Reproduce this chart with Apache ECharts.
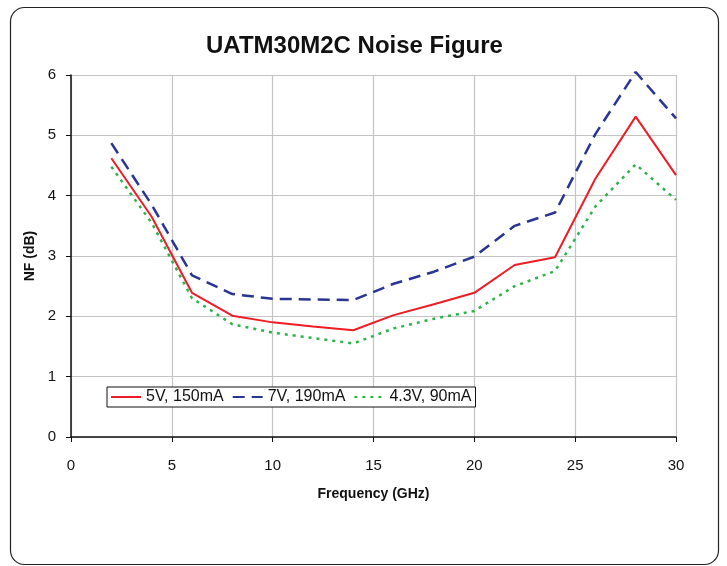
<!DOCTYPE html>
<html><head><meta charset="utf-8">
<script src="https://cdn.jsdelivr.net/npm/echarts@6/dist/echarts.min.js"></script>
<style>html,body{margin:0;padding:0;background:#fff}#c{width:727px;height:566px}</style>
</head><body><div id="c"></div>
<script>
var freq = [2,4,6,8,10,12,14,16,18,20,22,24,26,28,30];
var nf5V = [4.62,3.65,2.39,2.01,1.90,1.83,1.77,2.02,2.20,2.39,2.85,2.98,4.28,5.31,4.34];
var nf7V = [4.87,3.85,2.68,2.37,2.29,2.28,2.27,2.54,2.74,2.99,3.50,3.72,5.02,6.05,5.28];
var nf43V = [4.48,3.55,2.30,1.87,1.73,1.64,1.55,1.80,1.96,2.09,2.50,2.75,3.82,4.52,3.93];
var seriesNames = ['5V, 150mA','7V, 190mA','4.3V, 90mA'];
function pts(ys){return freq.map(function(f,i){return [f,ys[i]];});}
var font = 'Liberation Sans, Arial, sans-serif';
var chart = echarts.init(document.getElementById('c'));
chart.setOption({
  animation:false,
  backgroundColor:'#fff',
  graphic:[{type:'rect',shape:{x:10.5,y:7.5,width:708,height:557,r:14},style:{fill:'none',stroke:'#222',lineWidth:1.2},silent:true}],
  title:{text:'UATM30M2C Noise Figure',left:201,top:29,textStyle:{fontFamily:font,fontSize:24,fontWeight:'bold',color:'#111'}},
  grid:{left:71,right:51,top:75,bottom:129},
  legend:{left:107,top:387,orient:'horizontal',itemWidth:30,itemHeight:8,itemGap:8,padding:[2,4,2,3],
    borderColor:'#111',borderWidth:1,backgroundColor:'#fff',
    itemStyle:{opacity:0},
    textStyle:{fontFamily:font,fontSize:16,color:'#111'},
    data:seriesNames},
  xAxis:{type:'value',min:0,max:30,interval:5,
    name:'Frequency (GHz)',nameLocation:'middle',nameGap:50,
    nameTextStyle:{fontFamily:font,fontSize:14,fontWeight:'bold',color:'#111'},
    axisLine:{onZero:false,lineStyle:{color:'#111',width:1.5}},
    axisTick:{show:true,length:5,lineStyle:{color:'#111'}},
    axisLabel:{fontFamily:font,fontSize:15,color:'#111',margin:21},
    splitLine:{show:true,lineStyle:{color:'#c4c4c4',width:1.2}}},
  yAxis:{type:'value',min:0,max:6,interval:1,
    name:'NF (dB)',nameLocation:'middle',nameGap:31,
    nameTextStyle:{fontFamily:font,fontSize:14,fontWeight:'bold',color:'#111'},
    axisLine:{show:true,lineStyle:{color:'#111',width:1.5}},
    axisTick:{show:true,length:5,lineStyle:{color:'#111'}},
    axisLabel:{fontFamily:font,fontSize:15,color:'#111',margin:15},
    splitLine:{show:true,lineStyle:{color:'#c4c4c4',width:1.2}}},
  series:[
    {name:seriesNames[0],type:'line',data:pts(nf5V),symbol:'none',clip:false,color:'#ee1c25',
      lineStyle:{color:'#ee1c25',width:2,type:'solid'}},
    {name:seriesNames[1],type:'line',data:pts(nf7V),symbol:'none',clip:false,color:'#283592',
      lineStyle:{color:'#283592',width:2.5,type:[12,7]}},
    {name:seriesNames[2],type:'line',data:pts(nf43V),symbol:'none',clip:false,color:'#2db34a',
      lineStyle:{color:'#2db34a',width:2.5,type:[3,5]}}
  ]
});
</script></body></html>
